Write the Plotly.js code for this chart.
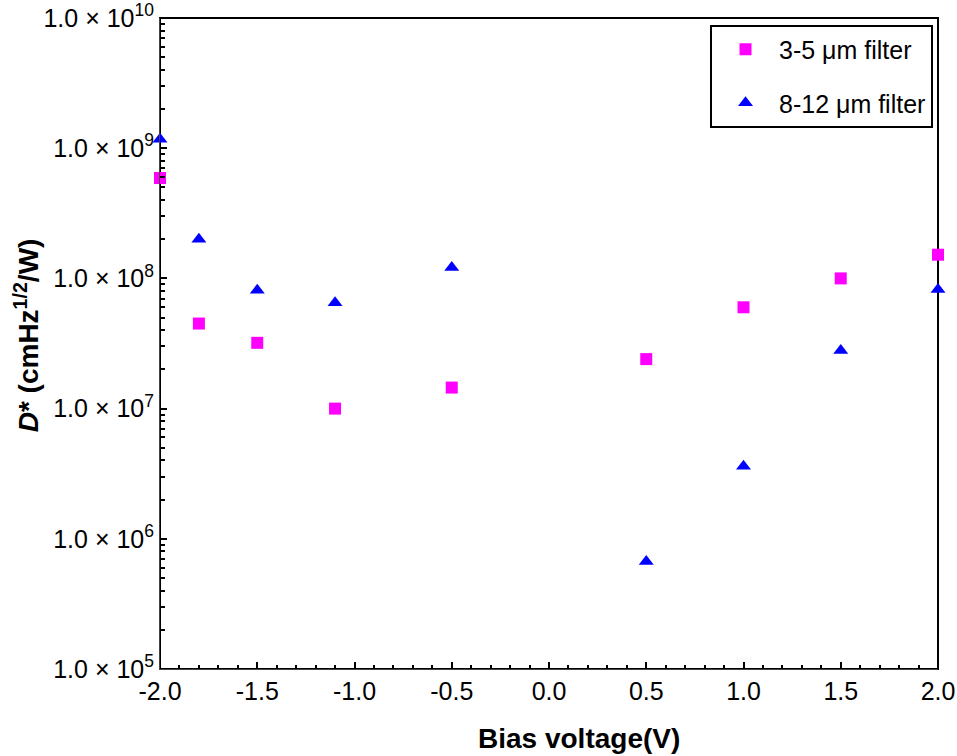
<!DOCTYPE html>
<html>
<head>
<meta charset="utf-8">
<script src="https://cdn.plot.ly/plotly-3.0.1.min.js"></script>
<style>html,body{margin:0;padding:0;background:#fff;}#chart{width:957px;height:756px;}</style>
</head>
<body>
<div id="chart"></div>
<script>
// Data
const biasA = [-2.0, -1.8, -1.5, -1.1, -0.5, 0.5, 1.0, 1.5, 2.0];
const dstarA = [5.9e8, 4.5e7, 3.2e7, 1.0e7, 1.45e7, 2.4e7, 6.0e7, 1.0e8, 1.52e8];
const biasB = [-2.0, -1.8, -1.5, -1.1, -0.5, 0.5, 1.0, 1.5, 2.0];
const dstarB = [1.17e9, 2.0e8, 8.1e7, 6.5e7, 1.21e8, 6.7e5, 3.6e6, 2.8e7, 8.2e7];
const nameA = "3-5 μm filter";
const nameB = "8-12 μm filter";
const yTickVals = [1e5, 1e6, 1e7, 1e8, 1e9, 1e10];
const yTickText = ["1.0 × 10<sup>5</sup>", "1.0 × 10<sup>6</sup>", "1.0 × 10<sup>7</sup>", "1.0 × 10<sup>8</sup>", "1.0 × 10<sup>9</sup>", "1.0 × 10<sup>10</sup>"];
const xTickVals = [-2.0, -1.5, -1.0, -0.5, 0.0, 0.5, 1.0, 1.5, 2.0];
const xTickText = ["-2.0", "-1.5", "-1.0", "-0.5", "0.0", "0.5", "1.0", "1.5", "2.0"];
const xTitle = "<b>Bias voltage(V)</b>";
const yTitle = "<b><i>D</i>* (cmHz<sup>1/2</sup>/W)</b>";

// minor tick positions (2..9 within each decade)
const yMinor = [];
for (let e = 5; e < 10; e++) for (let k = 2; k <= 9; k++) yMinor.push(k * Math.pow(10, e));

const font = "Arial, Liberation Sans, sans-serif";
const ink = "#000000";

const traces = [
  {x: biasA, y: dstarA, name: nameA, type: "scatter", mode: "markers", cliponaxis: false,
   legendgroup: "a",
   marker: {symbol: "square", size: 12, color: "#FF00FF"}},
  {x: biasB, y: dstarB, name: nameB, type: "scatter", mode: "markers", cliponaxis: false,
   legendgroup: "b",
   marker: {symbol: "triangle-up", size: 13, color: "#0000FF"}}
];

const layout = {
  width: 957, height: 756,
  margin: {l: 160, r: 19, t: 18, b: 87},
  font: {family: font, size: 25, color: ink},
  showlegend: true,
  legend: {x: 0.9936, y: 0.99, xanchor: "right", yanchor: "top",
    bordercolor: "#000", borderwidth: 2, bgcolor: "#fff",
    font: {family: font, size: 25, color: ink},
    tracegroupgap: 18, traceorder: "grouped", itemwidth: 57},
  xaxis: {
    range: [-2.0, 2.0], tickmode: "array", tickvals: xTickVals, ticktext: xTickText,
    ticks: "inside", ticklen: 7, tickwidth: 2, tickcolor: ink,
    showline: true, showgrid: false, zeroline: false,
    tickfont: {family: font, size: 25, color: ink},
    minor: {dtick: 0.1, ticks: "inside", ticklen: 4, tickwidth: 1.5, tickcolor: ink, showgrid: false}
  },
  yaxis: {
    type: "log", range: [5, 10], tickmode: "array", tickvals: yTickVals, ticktext: yTickText,
    ticks: "inside", ticklen: 7, tickwidth: 2, tickcolor: ink,
    showline: true, showgrid: false, zeroline: false,
    tickfont: {family: font, size: 25, color: ink},
    minor: {tickmode: "array", tickvals: yMinor, ticks: "inside", ticklen: 5, tickwidth: 1.5, tickcolor: ink, showgrid: false}
  },
  shapes: [
    {type: "rect", xref: "paper", yref: "paper", x0: 0, x1: 1, y0: 0, y1: 1,
     line: {color: ink, width: 2}, fillcolor: "rgba(0,0,0,0)", layer: "below"}
  ],
  annotations: [
    {text: xTitle, xref: "paper", yref: "paper", x: 0.538, y: -0.106, xanchor: "center", yanchor: "middle",
     showarrow: false, font: {family: font, size: 28, color: ink}},
    {text: yTitle, xref: "paper", yref: "paper", x: -0.171, y: 0.5125, xanchor: "center", yanchor: "middle",
     textangle: -90, showarrow: false, font: {family: font, size: 28, color: ink}}
  ]
};

Plotly.newPlot("chart", traces, layout, {displayModeBar: false});
</script>
</body>
</html>
